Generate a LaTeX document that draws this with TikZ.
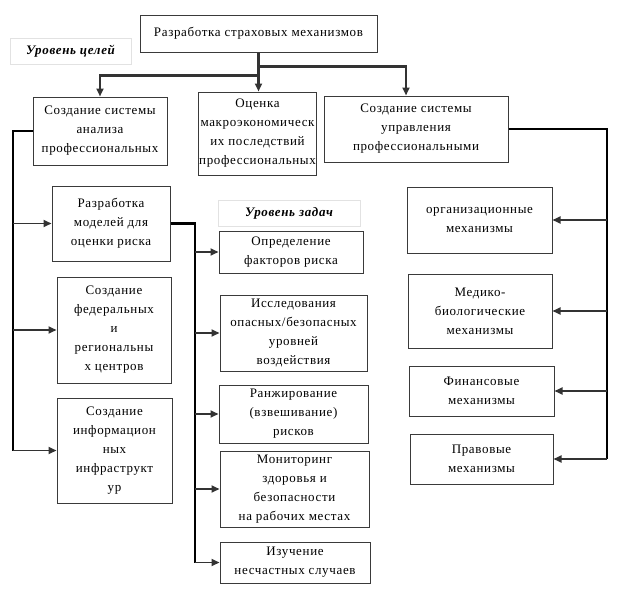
\documentclass[tikz,border=0pt]{standalone}
\usepackage{fontspec}
\setmainfont{Liberation Serif}[LetterSpace=5]
\usetikzlibrary{positioning, arrows.meta, calc}
\definecolor{boxline}{HTML}{3A3A3A}
\definecolor{lvlline}{HTML}{E2E2E2}

\begin{document}
\begin{tikzpicture}[
      x=1pt, y=-1pt,
      every node/.style={font=\fontsize{13}{19}\selectfont},
      box/.style 2 args={draw=boxline, line width=1pt, align=center,
                         inner sep=1pt, minimum width=#1pt, minimum height=#2pt},
      level/.style={draw=lvlline, line width=0.6pt, minimum width=#1pt,
                    minimum height=26pt, font=\fontsize{13}{15}\selectfont\bfseries\itshape},
      bus/.style={line width=2.2pt},
      arr/.style={->, line width=1.7pt, black!80},
      >={Triangle[length=8pt, width=7pt]},
    ]
    \useasboundingbox (0,0) rectangle (624,608);

    % goals
    \node[box={237}{37}] (top)   at (258.5, 33.5) {Разработка страховых механизмов};
    \node[level=121]     (lvlA)  at (70.5, 51)    {Уровень целей};
    \node[box={134}{68}] (goalL) at (100, 131)    {Создание системы\\анализа\\профессиональных};
    \node[box={115}{83}] (goalM) at (257.5, 133.5){Оценка\\макроэкономическ\\их последствий\\профессиональных};
    \node[box={184}{66}] (goalR) at (416, 129)    {Создание системы\\управления\\профессиональными};

    % left column
    \node[box={118}{75}]  (mod) at (111, 223.5) {Разработка\\моделей для\\оценки риска};
    \node[box={114}{106}] (fed) at (114, 330)   {Создание\\федеральных\\и\\региональны\\х центров};
    \node[box={115}{105}] (inf) at (114.5, 450.5) {Создание\\информацион\\ных\\инфраструкт\\ур};

    % tasks
    \node[level=142]      (lvlB) at (289, 213)   {Уровень задач};
    \node[box={144}{42}]  (t1)   at (291, 252)   {Определение\\факторов риска};
    \node[box={147}{76}]  (t2)   at (293.5, 333) {Исследования\\опасных/безопасных\\уровней\\воздействия};
    \node[box={149}{58}]  (t3)   at (293.5, 414) {Ранжирование\\(взвешивание)\\рисков};
    \node[box={149}{76}]  (t4)   at (294.5, 489) {Мониторинг\\здоровья и\\безопасности\\на рабочих местах};
    \node[box={150}{41}]  (t5)   at (295, 562.5) {Изучение\\несчастных случаев};

    % mechanisms
    \node[box={145}{66}] (r1) at (479.5, 220) {организационные\\механизмы};
    \node[box={144}{74}] (r2) at (480, 311)   {Медико-\\биологические\\механизмы};
    \node[box={145}{50}] (r3) at (481.5, 391) {Финансовые\\механизмы};
    \node[box={143}{50}] (r4) at (481.5, 459) {Правовые\\механизмы};

    \coordinate (busL) at (13, 0);
    \coordinate (busM) at (195, 0);
    \coordinate (busR) at (607, 0);

    % top split
    \draw[arr, bus] (top.south) -- ++(0,14) -| ([xshift=-10pt]goalR.north);
    \draw[arr, bus] ([yshift=-23pt]top.south) -| (goalL.north);
    \draw[arr, bus] (top.south) -- (top.south |- goalM.north);

    % buses
    \draw[bus] (goalL.west) -| (busL |- inf.west);
    \draw[bus] (mod.east) -| (busM |- t5.west);
    \draw[bus] (goalR.east) -| (busR |- r4.east);

    \foreach \n in {mod, fed, inf}
      \draw[arr] (busL |- \n.west) -- (\n.west);
    \foreach \n in {t1, t2, t3, t4, t5}
      \draw[arr] (busM |- \n.west) -- (\n.west);
    \foreach \n in {r1, r2, r3, r4}
      \draw[arr] (busR |- \n.east) -- (\n.east);
  \end{tikzpicture}
\end{document}
